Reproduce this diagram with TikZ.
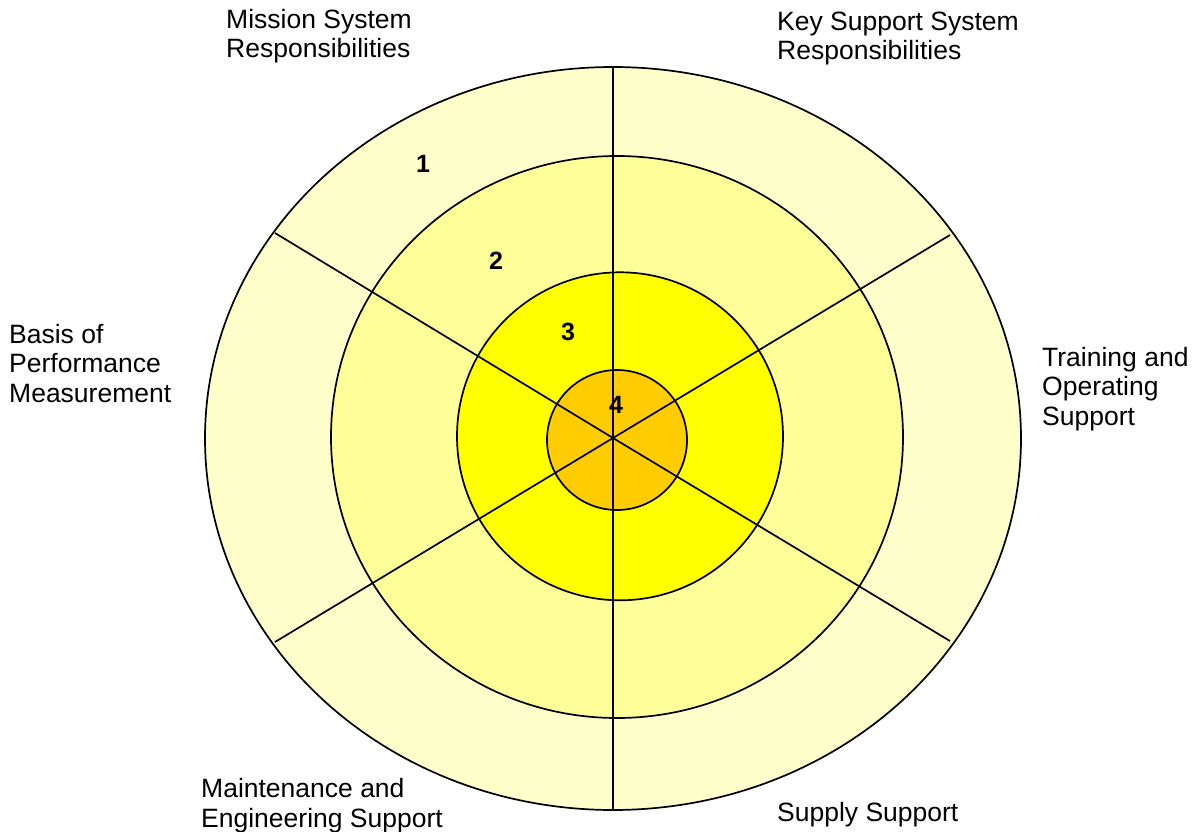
\documentclass[tikz,border=0pt]{standalone}
\usepackage{fontspec}
\setmainfont{Liberation Sans}
\definecolor{ringA}{HTML}{FFFFCC}
\definecolor{ringB}{HTML}{FFFF99}
\definecolor{ringC}{HTML}{FFFF00}
\definecolor{ringD}{HTML}{FFCC00}
\tikzset{
  ringline/.style={draw=black, line width=1.7pt},
  spoke/.style={draw=black, line width=1.7pt},
  lbl/.style={anchor=base west, inner sep=0pt, align=left, font=\fontsize{26.5}{29.5}\selectfont},
  num/.style={anchor=center, inner sep=0pt, font=\fontsize{25}{25}\selectfont\bfseries},
}
\begin{document}
\begin{tikzpicture}[x=1pt, y=-1pt]
\useasboundingbox[fill=white] (0,0) rectangle (1194,832);
% rings
\path[ringline, fill=ringA] (613,438.5) ellipse [x radius=408pt, y radius=371.5pt];
\path[ringline, fill=ringB] (617,437) ellipse [x radius=286pt, y radius=281pt];
\path[ringline, fill=ringC] (620,436.3) ellipse [x radius=163pt, y radius=164pt];
\path[ringline, fill=ringD] (617,440) circle [radius=70pt];
% spokes
\coordinate (c) at (613,438);
\coordinate (top) at (613,67);
\coordinate (bot) at (613,810);
\coordinate (ul) at (275,233);
\coordinate (ur) at (950,235);
\coordinate (ll) at (275,642);
\coordinate (lr) at (950,641);
\draw[spoke] (top) -- (bot);
\draw[spoke] (ul) -- (c) -- (lr);
\draw[spoke] (ll) -- (c) -- (ur);
% numbers
\node[num] (n1) at (423,164) {1};
\node[num] (n2) at (496,261) {2};
\node[num] (n3) at (568,332) {3};
\node[num] (n4) at (616,405) {4};
% labels (base anchor = baseline of last line)
\node[lbl] (mission) at (226,58) {Mission System\\Responsibilities};
\node[lbl] (key) at (777,60) {Key Support System\\Responsibilities};
\node[lbl] (basis) at (9,402) {Basis of\\Performance\\Measurement};
\node[lbl] (train) at (1042,425) {Training and\\Operating\\Support};
\node[lbl] (maint) at (201,827) {Maintenance and\\Engineering Support};
\node[lbl] (supply) at (777,821) {Supply Support};
\end{tikzpicture}
\end{document}
